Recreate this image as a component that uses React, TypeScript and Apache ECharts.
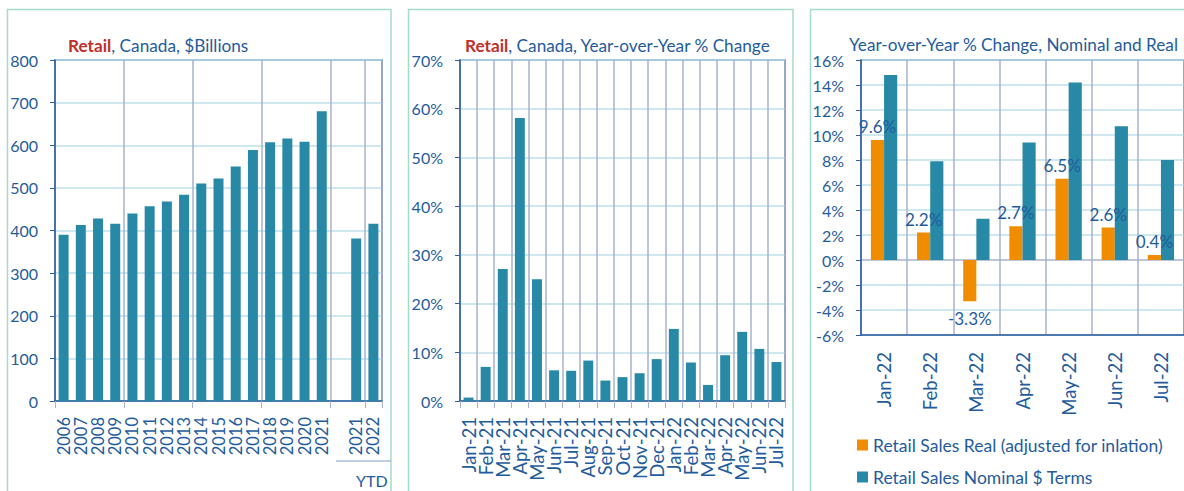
import React, { useEffect, useRef } from "react";
import * as echarts from "echarts";

const yearCats = ["2006","2007","2008","2009","2010","2011","2012","2013","2014","2015","2016","2017","2018","2019","2020","2021","","2021","2022"];
const retailBillions = [390, 413, 428, 416, 440, 457, 468, 484, 510, 522, 550, 589, 607, 616, 608, 680, null, 381, 416];

const monthCats = ["Jan-21","Feb-21","Mar-21","Apr-21","May-21","Jun-21","Jul-21","Aug-21","Sep-21","Oct-21","Nov-21","Dec-21","Jan-22","Feb-22","Mar-22","Apr-22","May-22","Jun-22","Jul-22"];
const yoyPct = [0.7, 7.0, 27.1, 58.1, 25.0, 6.3, 6.2, 8.3, 4.2, 4.9, 5.7, 8.6, 14.8, 7.9, 3.3, 9.4, 14.2, 10.7, 8.0];

const months22 = ["Jan-22","Feb-22","Mar-22","Apr-22","May-22","Jun-22","Jul-22"];
const realPct = [9.6, 2.2, -3.3, 2.7, 6.5, 2.6, 0.4];
const nominalPct = [14.8, 7.9, 3.3, 9.4, 14.2, 10.7, 8.0];

const seriesNames = ["Retail Sales Real (adjusted for inlation)", "Retail Sales Nominal $ Terms"];

const FONT = "Lato";
const BLUE = "#1F5C9C";
const RED = "#C0302B";
const AXIS = "#2F5F9E";
const VGRID = "#A7B2CF";
const HGRID = "#BFE0EA";
const TEAL = "#2889A6";
const ORANGE = "#F08C00";
const PANEL = "#A6DCC6";
const TITLE_SIZE = 17.2;

export default function App() {
  const ref = useRef<HTMLDivElement>(null);
  useEffect(() => {
    document.body.style.margin = "0";
    const chart = echarts.init(ref.current!, null, { renderer: "svg" });
    const yAxisBase = (extra: any) => ({
      type: "value",
      axisLine: { show: true, lineStyle: { color: AXIS, width: 1.5 } },
      axisTick: { show: true, length: 5, lineStyle: { color: AXIS } },
      splitLine: { show: true, lineStyle: { color: HGRID, width: 1.5 } },
      ...extra,
    });
    const xAxisBase = (extra: any) => ({
      type: "category",
      boundaryGap: true,
      axisLine: { show: true, onZero: false, lineStyle: { color: AXIS, width: 1.5 } },
      ...extra,
    });
    const rich = {
      r: { color: RED, fontWeight: "bold", fontSize: TITLE_SIZE, fontFamily: FONT },
      b: { color: BLUE, fontWeight: "normal", fontSize: TITLE_SIZE, fontFamily: FONT },
    };
    const zeroColors = [HGRID, HGRID, HGRID, VGRID, HGRID, HGRID, HGRID, HGRID, HGRID, HGRID, HGRID, HGRID];
    const legendText = { color: BLUE, fontSize: 17.5, fontFamily: FONT };
    chart.setOption({
      animation: false,
      backgroundColor: "#ffffff",
      textStyle: { fontFamily: FONT },
      title: [
        {
          text: "{r|Retail}{b|, Canada, $Billions}",
          left: 68, top: 37, padding: 0,
          textStyle: { fontWeight: "normal", rich },
        },
        {
          text: "{r|Retail}{b|, Canada, Year-over-Year % Change}",
          left: 465, top: 37, padding: 0,
          textStyle: { fontWeight: "normal", rich },
        },
        {
          text: "Year-over-Year % Change, Nominal and Real",
          left: 849, top: 36, padding: 0,
          textStyle: { color: BLUE, fontSize: TITLE_SIZE, fontWeight: "normal", fontFamily: FONT },
        },
      ],
      legend: [
        {
          data: [seriesNames[0]],
          left: 852, top: 431,
          itemWidth: 11, itemHeight: 11, itemTextGap: 6,
          icon: "rect",
          textStyle: legendText,
          selectedMode: false,
        },
        {
          data: [seriesNames[1]],
          left: 852, top: 463,
          itemWidth: 11, itemHeight: 11, itemTextGap: 6,
          icon: "rect",
          textStyle: legendText,
          selectedMode: false,
        },
      ],
      grid: [
        { left: 55, top: 60, width: 327, height: 341, show: true, borderColor: AXIS, borderWidth: 1.5, backgroundColor: "transparent" },
        { left: 460, top: 60, width: 325, height: 341, show: true, borderColor: AXIS, borderWidth: 1.5, backgroundColor: "transparent" },
        { left: 861, top: 60, width: 333, height: 275, show: true, borderColor: AXIS, borderWidth: 1.5, backgroundColor: "transparent" },
      ],
      xAxis: [
        xAxisBase({
          gridIndex: 0, data: yearCats,
          axisTick: { show: true, interval: 3, length: 7, lineStyle: { color: VGRID } },
          splitLine: { show: true, interval: 3, lineStyle: { color: VGRID, width: 1.5 } },
          axisLabel: { color: BLUE, fontFamily: FONT, fontSize: 16.5, rotate: 90, interval: 0, margin: 16 },
        }),
        xAxisBase({
          gridIndex: 1, data: monthCats,
          axisTick: { show: true, interval: 0, length: 7, lineStyle: { color: VGRID } },
          splitLine: { show: true, interval: 0, lineStyle: { color: VGRID, width: 1.5 } },
          axisLabel: { color: BLUE, fontFamily: FONT, fontSize: 18.5, rotate: 90, interval: 0, margin: 16 },
        }),
        xAxisBase({
          gridIndex: 2, data: months22,
          axisTick: { show: false },
          splitLine: { show: true, interval: 0, lineStyle: { color: VGRID, width: 1.5 } },
          axisLabel: { color: BLUE, fontFamily: FONT, fontSize: 18.5, rotate: 90, interval: 0, margin: 17 },
        }),
      ],
      yAxis: [
        yAxisBase({ gridIndex: 0, min: 0, max: 800, interval: 100, axisLabel: { color: BLUE, fontFamily: FONT, fontSize: 16, margin: 17 } }),
        yAxisBase({ gridIndex: 1, min: 0, max: 70, interval: 10, axisLabel: { color: BLUE, fontFamily: FONT, fontSize: 16, margin: 17, formatter: "{value}%" } }),
        yAxisBase({
          gridIndex: 2, min: -6, max: 16, interval: 2,
          axisLabel: { color: BLUE, fontFamily: FONT, fontSize: 16, margin: 17, formatter: "{value}%" },
          splitLine: { show: true, lineStyle: { color: zeroColors, width: 1.5 } },
        }),
      ],
      series: [
        {
          type: "bar", name: "retail", xAxisIndex: 0, yAxisIndex: 0, data: retailBillions,
          barCategoryGap: "42%", itemStyle: { color: TEAL },
        },
        {
          type: "bar", name: "yoy", xAxisIndex: 1, yAxisIndex: 1, data: yoyPct,
          barCategoryGap: "42%", itemStyle: { color: TEAL },
        },
        {
          type: "bar", name: seriesNames[0], xAxisIndex: 2, yAxisIndex: 2,
          data: realPct.map((v) => (v < 0 ? { value: v, label: { position: "bottom", distance: 9 } } : v)),
          barGap: "0%", barCategoryGap: "43%", itemStyle: { color: ORANGE },
          label: {
            show: true, position: "top", distance: 5, color: BLUE, fontSize: 17, fontFamily: FONT,
            formatter: (p: any) => p.value.toFixed(1) + "%",
          },
        },
        {
          type: "bar", name: seriesNames[1], xAxisIndex: 2, yAxisIndex: 2, data: nominalPct,
          barGap: "0%", barCategoryGap: "43%", itemStyle: { color: TEAL },
        },
      ],
      graphic: [
        { type: "rect", shape: { x: 7.5, y: 9.5, width: 383.5, height: 500 }, style: { fill: "none", stroke: PANEL, lineWidth: 1.5 }, z: 100 },
        { type: "rect", shape: { x: 408.5, y: 9.5, width: 384.5, height: 500 }, style: { fill: "none", stroke: PANEL, lineWidth: 1.5 }, z: 100 },
        { type: "rect", shape: { x: 810.5, y: 9.5, width: 400, height: 500 }, style: { fill: "none", stroke: PANEL, lineWidth: 1.5 }, z: 100 },
        { type: "line", shape: { x1: 336, y1: 461, x2: 391, y2: 461 }, style: { stroke: "#7F9CC4", lineWidth: 1.2 }, z: 100 },
        { type: "text", x: 356, y: 472, style: { text: "YTD", fill: BLUE, fontSize: 16, fontFamily: FONT }, z: 100 },
      ],
    });
    return () => chart.dispose();
  }, []);
  return <div ref={ref} style={{ position: "absolute", left: 0, top: 0, width: 1184, height: 491 }} />;
}
